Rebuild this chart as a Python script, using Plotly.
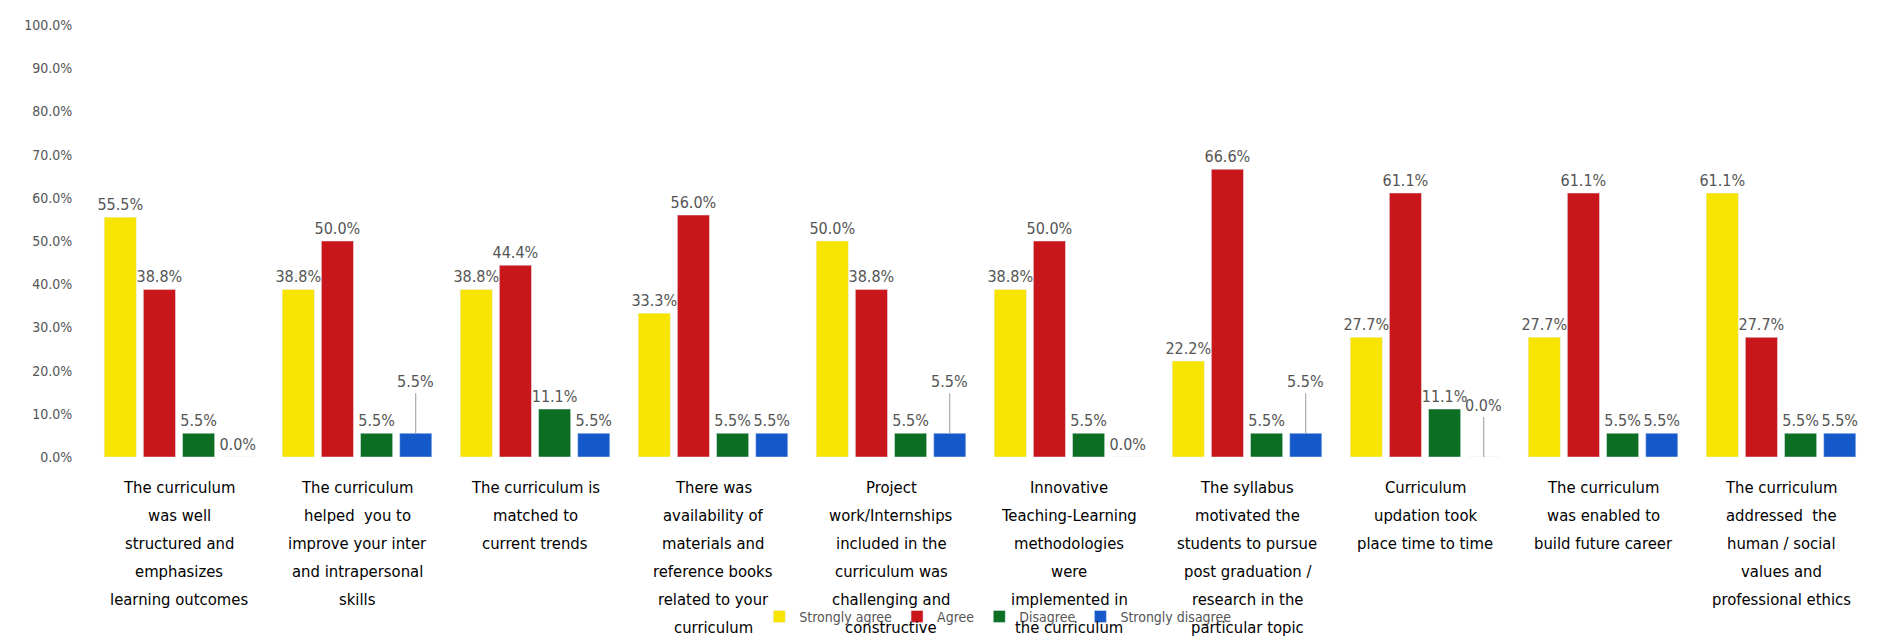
import plotly.graph_objects as go

categories = [
    "The curriculum<br>was well<br>structured and<br>emphasizes<br>learning outcomes",
    "The curriculum<br>helped  you to<br>improve your inter<br>and intrapersonal<br>skills",
    "The curriculum is<br>matched to<br>current trends",
    "There was<br>availability of<br>materials and<br>reference books<br>related to your<br>curriculum",
    "Project<br>work/Internships<br>included in the<br>curriculum was<br>challenging and<br>constructive",
    "Innovative<br>Teaching-Learning<br>methodologies<br>were<br>implemented in<br>the curriculum",
    "The syllabus<br>motivated the<br>students to pursue<br>post graduation /<br>research in the<br>particular topic",
    "Curriculum<br>updation took<br>place time to time",
    "The curriculum<br>was enabled to<br>build future career",
    "The curriculum<br>addressed  the<br>human / social<br>values and<br>professional ethics",
]
strongly_agree = [55.5, 38.8, 38.8, 33.3, 50.0, 38.8, 22.2, 27.7, 27.7, 61.1]
agree = [38.8, 50.0, 44.4, 56.0, 38.8, 50.0, 66.6, 61.1, 61.1, 27.7]
disagree = [5.5, 5.5, 11.1, 5.5, 5.5, 5.5, 5.5, 11.1, 5.5, 5.5]
strongly_disagree = [0.0, 5.5, 5.5, 5.5, 5.5, 0.0, 5.5, 0.0, 5.5, 5.5]
series_names = ["Strongly agree", "Agree", "Disagree", "Strongly disagree"]
y_ticks = [0, 10, 20, 30, 40, 50, 60, 70, 80, 90, 100]
colors = ["#F7E400", "#C8161B", "#0C6E23", "#1558C9"]
# categories whose "Strongly disagree" label is lifted with a leader line
leader_groups = [1, 4, 6, 7]

BARGAP = 0.12
LABEL_FONT = "DejaVu Sans Condensed, Liberation Sans"
x_idx = list(range(len(categories)))

fig = go.Figure()
all_series = [strongly_agree, agree, disagree, strongly_disagree]
for si, (name, vals, col) in enumerate(zip(series_names, all_series, colors)):
    texts = []
    for gi, v in enumerate(vals):
        if si == 3 and gi in leader_groups:
            texts.append("")
        else:
            texts.append(f"{v:.1f}%")
    fig.add_trace(go.Bar(
        x=x_idx, y=vals, name=name, marker_color=col,
        text=texts, textposition="outside", cliponaxis=False, constraintext="none",
        textfont=dict(size=16, color="#555555", family=LABEL_FONT),
    ))

pitch = (1 - BARGAP) / 4
for gi in leader_groups:
    v = strongly_disagree[gi]
    fig.add_annotation(
        x=gi + 1.5 * pitch, y=v, xref="x", yref="y",
        text=f"{v:.1f}%", showarrow=True, arrowhead=0, arrowwidth=1,
        arrowcolor="#999999", ax=0, ay=-40, yanchor="bottom",
        font=dict(size=16, color="#555555", family=LABEL_FONT),
    )

# category labels, one line per annotation to match the reference line spacing
for gi, cat in enumerate(categories):
    for j, line in enumerate(cat.split("<br>")):
        fig.add_annotation(
            x=gi, y=0, xref="x", yref="paper", yanchor="middle", xanchor="center",
            yshift=-(30 + 28 * j), showarrow=False, text=line,
            font=dict(size=16.5, color="#000000", family="Liberation Sans Narrow, DejaVu Sans Condensed"),
        )

fig.update_layout(
    width=1888, height=637,
    margin=dict(l=82, r=26, t=17, b=182),
    plot_bgcolor="white", paper_bgcolor="white",
    barmode="group", bargap=BARGAP, bargroupgap=0.18,
    showlegend=True,
    legend=dict(orientation="h", x=0.376, xanchor="left", y=-0.37, yanchor="middle",
                font=dict(size=14, color="#555555", family="DejaVu Sans Condensed"),
                bgcolor="rgba(0,0,0,0)", itemwidth=30, traceorder="normal"),
    xaxis=dict(
        range=[-0.5, len(categories) - 0.5], showticklabels=False, automargin=False,
        showgrid=False, showline=False, zeroline=False,
    ),
    yaxis=dict(
        range=[0, 100], tickmode="array", tickvals=y_ticks,
        ticktext=[f"{t:.1f}%" for t in y_ticks], automargin=False,
        tickfont=dict(size=14, color="#555555", family="DejaVu Sans Condensed"),
        showgrid=False, zeroline=False, showline=False,
        ticks="outside", ticklen=14, tickcolor="rgba(0,0,0,0)",
    ),
)

fig.write_html("out.html")
